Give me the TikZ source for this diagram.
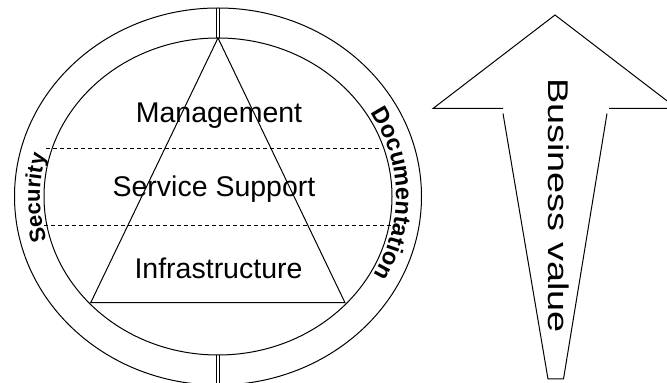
\documentclass[tikz,border=0pt]{standalone}
\usepackage{fontspec}
\setmainfont{Liberation Sans}
\usetikzlibrary{decorations.text}
\begin{document}
\begin{tikzpicture}[x=1pt,y=1pt,line width=1pt,
  lbl/.style={font=\fontsize{28.5}{30}\selectfont,inner sep=0pt},
  sep/.style={dash pattern=on 4pt off 3pt},
  ringtext/.style={decorate,decoration={text along path,text align=center,text={#1}}}]
\path[use as bounding box,fill=white] (0,0) rectangle (667,383);
\coordinate (C) at (218,186.5);
% ring
\draw (C) ellipse[x radius=203.5pt,y radius=188.5pt];
\draw (C) ellipse[x radius=174pt,y radius=158.5pt];
% dividers in the ring
\coordinate (dt1) at (216.8,345); \coordinate (dt2) at (216.8,375);
\coordinate (dt3) at (219.3,345); \coordinate (dt4) at (219.3,375);
\coordinate (db1) at (216.8,-3); \coordinate (db2) at (216.8,28);
\coordinate (db3) at (219.3,-3); \coordinate (db4) at (219.3,28);
\draw (dt1) -- (dt2); \draw (dt3) -- (dt4);
\draw (db1) -- (db2); \draw (db3) -- (db4);
% triangle
\coordinate (T) at (218,345);
\coordinate (BL) at (90.7,80.3);
\coordinate (BR) at (345,80.3);
\draw (T) -- (BL) -- (BR) -- cycle;
% dashed separators
\coordinate (s1a) at (46,234.7); \coordinate (s1b) at (380,234.7);
\coordinate (s2a) at (44,157); \coordinate (s2b) at (392,157);
\draw[sep] (s1a) -- (s1b);
\draw[sep] (s2a) -- (s2b);
% layer labels
\node[lbl,anchor=base] (mgmt) at (219,260.3) {Management};
\node[lbl,anchor=base] (svc) at (214,186.3) {Service Support};
\node[lbl,anchor=base] (infra) at (218.5,104.7) {Infrastructure};
% ring labels
\path[ringtext={|\bfseries\fontsize{23.5}{23.5}\selectfont|Documentation}]
  ([shift={(41:178pt and 162.5pt)}]C) arc[start angle=41,end angle=-39,x radius=178pt,y radius=162.5pt];
\path[ringtext={|\bfseries\fontsize{22}{22}\selectfont|Security}]
  ([shift={(220.5:178pt and 162.5pt)}]C) arc[start angle=220.5,end angle=140.5,x radius=178pt,y radius=162.5pt];
% arrow
\coordinate (hl) at (433,274.5); \coordinate (hli) at (503,274.5);
\coordinate (tip) at (555,368);
\coordinate (hr) at (677,274.5); \coordinate (hri) at (609,274.5);
\draw (hli) -- (hl) -- (tip) -- (hr) -- (hri);
\coordinate (sl) at (503,269.5); \coordinate (slb) at (548,4);
\coordinate (srb) at (563.5,4); \coordinate (sr) at (607,269.5);
\draw (sl) -- (slb) -- (srb) -- (sr);
\node[lbl,rotate=-90,anchor=base] (bv) at (548.3,177.5) {\scalebox{1.33}[1]{Business value}};
\end{tikzpicture}
\end{document}
